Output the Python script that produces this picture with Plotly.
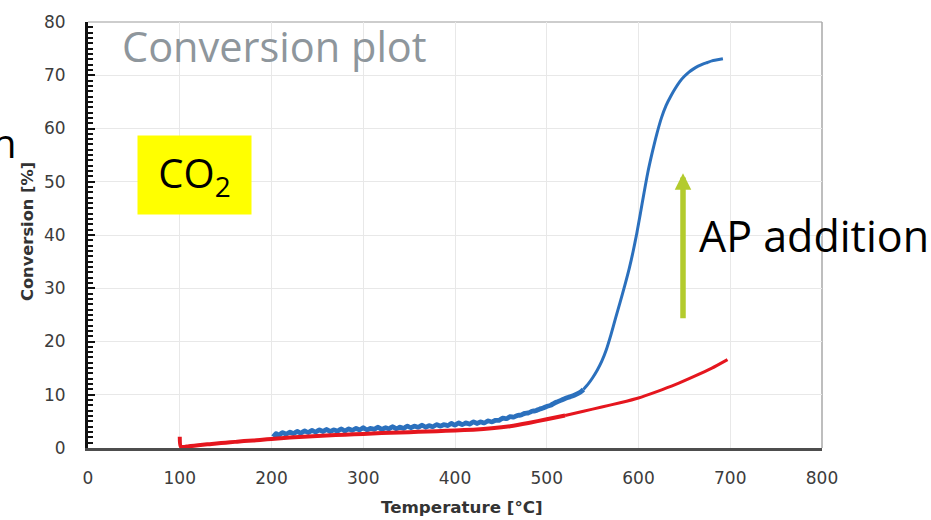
import plotly.graph_objects as go

# ---- data ----
temp_ap = [202, 205, 208, 212, 216, 220, 224, 228, 232, 236, 240, 244, 248, 252, 256, 260,
           264, 268, 272, 276, 280, 284, 288, 292, 296, 300, 304, 308, 312, 316, 320, 324,
           328, 332, 336, 340, 344, 348, 352, 356, 360, 364, 368, 372, 376, 380, 384, 388,
           392, 396, 400, 404, 408, 412, 416, 420, 424, 428, 432, 436, 440, 444, 448, 452,
           456, 460, 464, 468, 472, 476, 480, 484, 488, 492, 496, 500, 504, 508, 512, 516,
           520, 525, 530, 536, 540, 545, 550, 555, 560, 565, 570, 575, 580, 585, 590, 594,
           598, 602, 606, 610, 615, 620, 625, 630, 635, 640, 645, 650, 655, 660, 665, 670,
           675, 680, 686, 692]
conv_ap = [2.1, 2.7, 2.4, 2.9, 2.6, 3.0, 2.7, 3.1, 2.8, 3.2, 2.9, 3.3, 3.0, 3.4, 3.1, 3.5,
           3.1, 3.4, 3.2, 3.6, 3.2, 3.6, 3.3, 3.7, 3.4, 3.8, 3.4, 3.7, 3.5, 3.9, 3.5, 3.8,
           3.6, 4.0, 3.6, 3.9, 3.7, 4.1, 3.8, 4.1, 3.9, 4.3, 3.9, 4.2, 4.0, 4.4, 4.1, 4.4,
           4.2, 4.6, 4.3, 4.7, 4.4, 4.7, 4.5, 4.9, 4.6, 4.9, 4.7, 5.1, 4.9, 5.2, 5.2, 5.6,
           5.5, 5.9, 5.8, 6.1, 6.2, 6.5, 6.6, 6.9, 7.0, 7.3, 7.5, 7.8, 8.0, 8.4, 8.7, 9.0,
           9.3, 9.6, 9.9, 10.4, 11.0, 12.0, 13.2, 14.6, 16.3, 18.5, 21.3, 24.4, 27.4, 30.5, 33.8, 36.8,
           40.2, 44.0, 47.9, 51.6, 55.5, 59.0, 62.0, 64.3, 66.0, 67.5, 68.8, 69.8, 70.6, 71.2, 71.7, 72.1,
           72.4, 72.7, 72.9, 73.1]

temp_base = [100, 101, 105, 110, 120, 130, 140, 150, 160, 170, 180, 190, 200, 220, 240, 260,
             280, 300, 320, 340, 360, 380, 400, 420, 440, 460, 480, 500, 520, 540, 560, 580,
             600, 620, 640, 660, 680, 697]
conv_base = [2.1, 0.3, 0.2, 0.35, 0.5, 0.7, 0.85, 1.0, 1.15, 1.3, 1.4, 1.55, 1.7, 1.95, 2.15, 2.35,
             2.5, 2.65, 2.8, 2.9, 3.05, 3.15, 3.3, 3.45, 3.7, 4.1, 4.7, 5.4, 6.1, 6.9, 7.7, 8.5,
             9.4, 10.6, 11.9, 13.4, 15.0, 16.6]

x_ticks = [0, 100, 200, 300, 400, 500, 600, 700, 800]
y_ticks = [0, 10, 20, 30, 40, 50, 60, 70, 80]

BLUE = "#2B70BD"
RED = "#E5161E"
SPLIT = 540  # where the noisy part ends (thicker line)

fig = go.Figure()

ap_low = [(t, c) for t, c in zip(temp_ap, conv_ap) if t <= SPLIT]
ap_high = [(t, c) for t, c in zip(temp_ap, conv_ap) if t >= SPLIT]
base_low = [(t, c) for t, c in zip(temp_base, conv_base) if t <= 520]
base_high = [(t, c) for t, c in zip(temp_base, conv_base) if t >= 520]

for pts, col, w in [(ap_low, BLUE, 4.8), (ap_high, BLUE, 3),
                    (base_low, RED, 4), (base_high, RED, 3)]:
    fig.add_trace(go.Scatter(x=[p[0] for p in pts], y=[p[1] for p in pts], mode="lines",
                             line=dict(color=col, width=w, shape="spline", smoothing=0.6),
                             showlegend=False, hoverinfo="skip"))

tickfont = dict(family="DejaVu Sans", size=17, color="#3c3c3c")

fig.update_xaxes(range=[0, 800], tickvals=x_ticks, ticktext=[str(v) for v in x_ticks],
                 showgrid=True, gridcolor="#E8E8E8", gridwidth=1,
                 showline=True, linecolor="#4d4d4d", linewidth=2.5,
                 ticks="", tickfont=tickfont, ticklabelstandoff=13, zeroline=False)
fig.update_yaxes(range=[0, 80], tickvals=y_ticks, ticktext=[str(v) for v in y_ticks],
                 showgrid=True, gridcolor="#E8E8E8", gridwidth=1,
                 showline=True, linecolor="#111111", linewidth=3,
                 ticks="inside", ticklen=7, tickwidth=2, tickcolor="#111111",
                 minor=dict(dtick=1, ticks="inside", ticklen=5, tickwidth=1.5,
                            tickcolor="#111111", showgrid=False),
                 tickfont=tickfont, ticklabelstandoff=16, zeroline=False)

# top and right frame
fig.add_shape(type="line", xref="paper", yref="paper", x0=0, x1=1, y0=1, y1=1,
              line=dict(color="#BDBDBD", width=1.5), layer="below")
fig.add_shape(type="line", xref="paper", yref="paper", x0=1, x1=1, y0=0, y1=1,
              line=dict(color="#A8A8A8", width=1.5), layer="below")

ann = []
ann.append(dict(text="Conversion plot", xref="paper", yref="paper", x=0.0436, y=0.944,
                xanchor="left", yanchor="middle", showarrow=False,
                font=dict(family="Open Sans", size=41.5, color="#8E969C")))
ann.append(dict(text="CO<sub>2</sub>", xref="paper", yref="paper", x=0.1451, y=0.641,
                xanchor="center", yanchor="middle", showarrow=False,
                width=113, height=78, bgcolor="#FFFF00", borderpad=0,
                font=dict(family="Open Sans", size=40, color="black")))
ann.append(dict(text="AP addition", xref="paper", yref="paper", x=0.8297, y=0.498,
                xanchor="left", yanchor="middle", showarrow=False,
                font=dict(family="Open Sans", size=43, color="black")))
ann.append(dict(text="n", xref="paper", yref="paper", x=-0.1335, y=0.718,
                xanchor="left", yanchor="middle", showarrow=False,
                font=dict(family="Open Sans", size=40, color="black")))
ann.append(dict(text="", x=648.5, y=51.6, xref="x", yref="y", axref="x", ayref="y",
                ax=648.5, ay=24.1, showarrow=True, arrowhead=2, arrowsize=0.6,
                arrowwidth=5.5, arrowcolor="#B3CB2D", standoff=0, startstandoff=0))
ann.append(dict(text="<b>Conversion [%]</b>", xref="paper", yref="paper",
                x=-0.0831, y=0.507, xanchor="center", yanchor="middle", textangle=-90,
                showarrow=False, font=dict(family="DejaVu Sans", size=16.3, color="#333333")))
ann.append(dict(text="<b>Temperature [°C]</b>", xref="paper", yref="paper",
                x=0.5095, y=-0.139, xanchor="center", yanchor="middle",
                showarrow=False, font=dict(family="DejaVu Sans", size=16.7, color="#333333")))

fig.update_layout(width=931, height=520, margin=dict(l=88, r=109, t=16, b=72),
                  paper_bgcolor="white", plot_bgcolor="white", annotations=ann,
                  showlegend=False)

fig.write_html("out.html")
